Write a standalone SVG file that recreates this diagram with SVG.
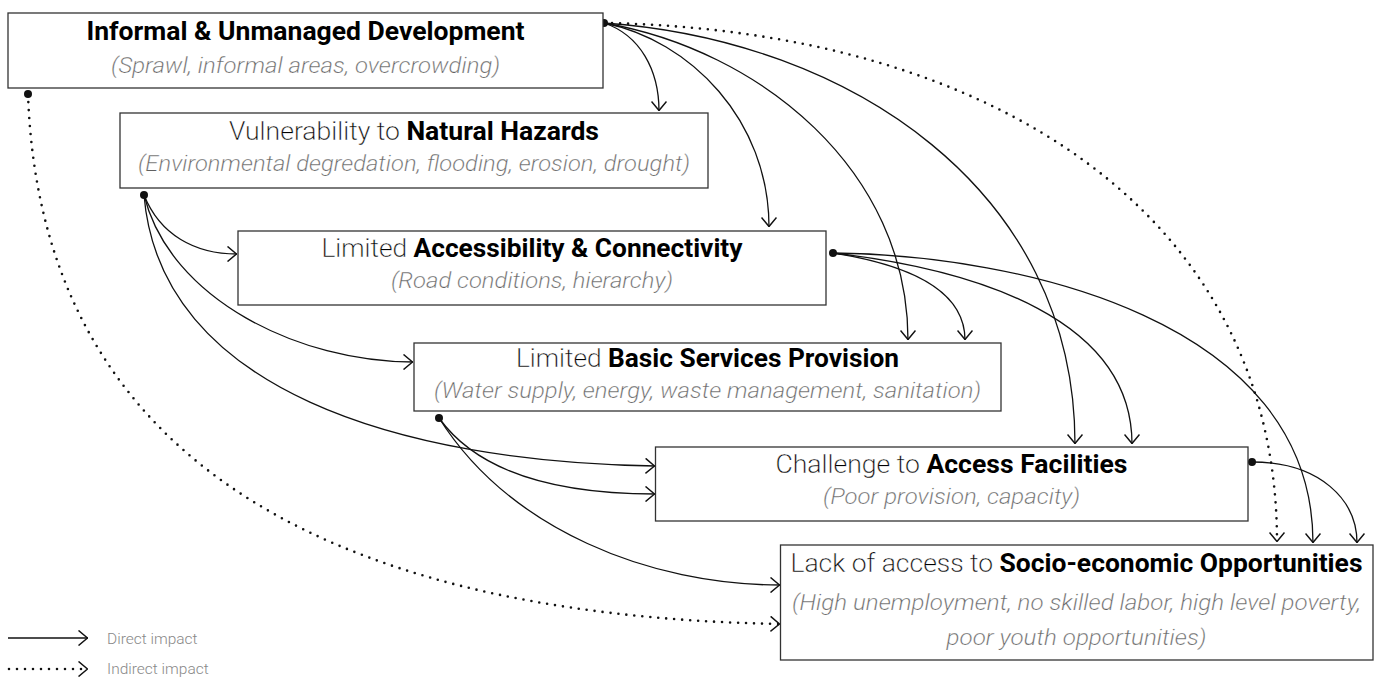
<svg xmlns="http://www.w3.org/2000/svg" width="1383" height="680" viewBox="0 0 1383 680">
<style>
.box{fill:#fff;stroke:#333;stroke-width:1.3}
.t{font-family:"Roboto Light",Roboto,"Liberation Sans",sans-serif;font-size:25px;font-weight:300;fill:#000;text-anchor:middle;stroke:#fff;stroke-width:0.3}
.b{font-family:Roboto,"Liberation Sans",sans-serif;font-weight:700;fill:#000;stroke:none}
.s{font-family:"Roboto Light",Roboto,"Liberation Sans",sans-serif;font-size:22.5px;font-weight:300;font-style:italic;fill:#606060;text-anchor:middle;stroke:#fff;stroke-width:0.25}
.c{fill:none;stroke:#111;stroke-width:1.3;marker-end:url(#ah)}
.d{fill:none;stroke:#111;stroke-width:2.6;stroke-dasharray:0 8;stroke-linecap:round;marker-end:url(#ah)}
.dot{fill:#111}
.lg{font-family:"Roboto Light",Roboto,"Liberation Sans",sans-serif;font-size:15.5px;font-weight:300;fill:#888}
</style>
<defs>
<marker id="ah" viewBox="0 0 10 16" refX="10" refY="8" markerWidth="10" markerHeight="16" markerUnits="userSpaceOnUse" orient="auto">
<path d="M0.5,0.5 L9.5,8 L0.5,15.5" fill="none" stroke="#111" stroke-width="1.5"/>
</marker>
</defs>
<g id="connectors">
<path class="c" d="M604,23 C640,35 659,70 659,111"/>
<path class="c" d="M604,23 C690,40 769,120 769,227"/>
<path class="c" d="M604,23 C760,50 908,170 908,340"/>
<path class="c" d="M604,23 C850,40 1075,190 1075,444"/>
<path class="d" d="M604,23 C1000,30 1277,220 1277,542"/>
<path class="d" d="M28,94 C40,440 300,615 780,624"/>
<path class="c" d="M144,195 C160,235 195,254 237,254"/>
<path class="c" d="M144,195 C170,300 300,362 413,362"/>
<path class="c" d="M144,195 C160,390 400,462 655,466"/>
<path class="c" d="M439,418 C480,475 560,494 655,494"/>
<path class="c" d="M439,418 C510,530 650,585 780,585"/>
<path class="c" d="M833,253 C910,265 965,290 965,340"/>
<path class="c" d="M833,253 C980,270 1132,320 1132,444"/>
<path class="c" d="M833,253 C1020,255 1313,320 1313,543"/>
<path class="c" d="M1252,462 C1320,462 1357,500 1357,543"/>
<circle class="dot" cx="604" cy="23" r="4"/>
<circle class="dot" cx="28" cy="94" r="4"/>
<circle class="dot" cx="144" cy="195" r="4"/>
<circle class="dot" cx="439" cy="418" r="4"/>
<circle class="dot" cx="833" cy="253" r="4"/>
<circle class="dot" cx="1252" cy="462" r="4"/>
</g>
<g id="n1">
<rect class="box" x="8" y="13" width="595" height="75"/>
<text class="t" x="305.5" y="39.5" textLength="438" lengthAdjust="spacingAndGlyphs"><tspan class="b">Informal &amp; Unmanaged Development</tspan></text>
<text class="s" x="305.5" y="72.5" textLength="389" lengthAdjust="spacingAndGlyphs">(Sprawl, informal areas, overcrowding)</text>
</g>
<g id="n2">
<rect class="box" x="120" y="113" width="588" height="75"/>
<text class="t" x="414" y="139.5" textLength="370" lengthAdjust="spacingAndGlyphs">Vulnerability to <tspan class="b">Natural Hazards</tspan></text>
<text class="s" x="414" y="170.5" textLength="552" lengthAdjust="spacingAndGlyphs">(Environmental degredation, flooding, erosion, drought)</text>
</g>
<g id="n3">
<rect class="box" x="238" y="231" width="588" height="74"/>
<text class="t" x="532" y="256.5" textLength="421" lengthAdjust="spacingAndGlyphs">Limited <tspan class="b">Accessibility &amp; Connectivity</tspan></text>
<text class="s" x="532" y="288" textLength="282" lengthAdjust="spacingAndGlyphs">(Road conditions, hierarchy)</text>
</g>
<g id="n4">
<rect class="box" x="414" y="343" width="587" height="68"/>
<text class="t" x="707.5" y="366.5" textLength="383" lengthAdjust="spacingAndGlyphs">Limited <tspan class="b">Basic Services Provision</tspan></text>
<text class="s" x="707.5" y="398" textLength="547" lengthAdjust="spacingAndGlyphs">(Water supply, energy, waste management, sanitation)</text>
</g>
<g id="n5">
<rect class="box" x="655.5" y="447" width="592.5" height="74"/>
<text class="t" x="951.5" y="473" textLength="352" lengthAdjust="spacingAndGlyphs">Challenge to <tspan class="b">Access Facilities</tspan></text>
<text class="s" x="951.5" y="504" textLength="257" lengthAdjust="spacingAndGlyphs">(Poor provision, capacity)</text>
</g>
<g id="n6">
<rect class="box" x="780.5" y="545" width="592.5" height="115"/>
<text class="t" x="1076.5" y="571.5" textLength="572" lengthAdjust="spacingAndGlyphs">Lack of access to <tspan class="b">Socio-economic Opportunities</tspan></text>
<text class="s" x="1076.5" y="610" textLength="569" lengthAdjust="spacingAndGlyphs">(High unemployment, no skilled labor, high level poverty,</text>
<text class="s" x="1076.5" y="645" textLength="260" lengthAdjust="spacingAndGlyphs">poor youth opportunities)</text>
</g>
<g id="legend">
<path class="c" d="M8,638 L88,638"/>
<path class="d" d="M9,669 L88,669"/>
<text class="lg" x="107" y="644">Direct impact</text>
<text class="lg" x="107" y="674">Indirect impact</text>
</g>
</svg>
